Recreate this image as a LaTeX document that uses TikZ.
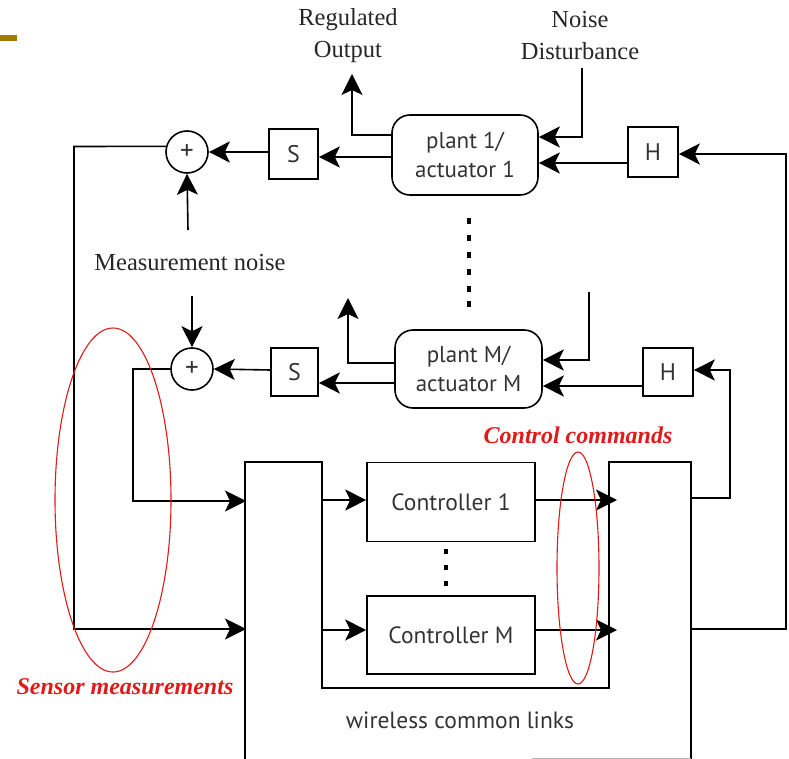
\documentclass[tikz,border=0pt]{standalone}
\usepackage{fontspec}
\setmainfont{Liberation Serif}
\newfontfamily\sansf{PT Sans}
\usetikzlibrary{arrows.meta}
\definecolor{goldbar}{RGB}{165,120,0}
\definecolor{redmark}{RGB}{225,25,25}
\begin{document}
\begin{tikzpicture}[x=1pt,y=-1pt,line width=1.6pt,
  arr/.style={-{Stealth[length=21pt,width=21pt,inset=5pt]}},
  sbox/.style={draw,rectangle,inner sep=0pt,text=black!80,font=\sansf\fontsize{24}{28}\selectfont},
  plantbox/.style={draw,rectangle,rounded corners=18pt,inner sep=0pt,align=center,text=black!80,font=\sansf\fontsize{23}{29}\selectfont},
  sumnode/.style={draw,circle,minimum size=42pt,inner sep=0pt,text=black!80,font=\sansf\fontsize{27}{28}\selectfont},
  ctrlbox/.style={draw,rectangle,minimum width=168pt,inner sep=0pt,text=black!80,font=\sansf\fontsize{23.5}{27}\selectfont},
  serlbl/.style={align=center,text=black!85,font=\fontsize{24.5}{32}\selectfont},
  redlbl/.style={text=redmark,font=\bfseries\itshape\fontsize{24}{28}\selectfont},
  ell/.style={draw=redmark,line width=1.1pt}]
\useasboundingbox (0,0) rectangle (789,759);
\fill[goldbar] (0,35) rectangle (17,41);

% labels
\node[serlbl] (reg) at (348,36) {Regulated\\Output};
\node[serlbl] (noise) at (580,36) {Noise\\Disturbance};
\node[serlbl] (mn) at (190,263) {Measurement noise};

% blocks
\node[plantbox,minimum width=146pt,minimum height=80pt] (plant1) at (465,155) {plant 1/\\actuator 1};
\node[plantbox,minimum width=147pt,minimum height=78pt] (plantM) at (468.5,369) {plant M/\\actuator M};
\node[sbox,minimum width=49pt,minimum height=50pt] (S1) at (293.5,154) {S};
\node[sbox,minimum width=47pt,minimum height=48pt] (SM) at (294.5,372) {S};
\node[sbox,minimum width=50pt,minimum height=50pt] (H1) at (653,152) {H};
\node[sbox,minimum width=50pt,minimum height=48pt] (HM) at (668,372) {H};
\node[sumnode] (sum1) at (187,152) {+};
\node[sumnode] (sumM) at (192,369) {+};
\node[ctrlbox,minimum height=79pt] (ctrl1) at (451,502) {Controller 1};
\node[ctrlbox,minimum height=78pt] (ctrlM) at (451,635) {Controller M};

% wireless common links frame
\draw (245,759) -- (245,462) -- (322,462) -- (322,688) -- (609,688) -- (609,462) -- (691,462) -- (691,759);
\draw[gray!60,line width=0.8pt] (532,758) -- (691,758);
\node[text=black!80,font=\sansf\fontsize{23.5}{27}\selectfont] (wl) at (460,720) {wireless common links};

% free-end coordinates
\coordinate (o1) at (352,74);
\coordinate (n1) at (582,68);
\coordinate (oM) at (348,298);
\coordinate (nM) at (589,292);
\coordinate (mn1) at (188,230);
\coordinate (mn2) at (192,296);
\coordinate (wa) at (246,501);
\coordinate (wb) at (246,629);
\coordinate (wr1) at (691,498);
\coordinate (wr2) at (691,629);
\coordinate (ia) at (322,500);
\coordinate (ib) at (322,630);
\coordinate (ra) at (617,500);
\coordinate (rb) at (617,630);

% plant 1 loop
\draw[arr] (plant1.west |- 0,135) -| (o1);
\draw[arr] (n1) |- (plant1.east |- 0,137);
\draw[arr] (H1.west |- 0,163) -- (plant1.east |- 0,163);
\draw[arr] (wr2) -- (786,629) -- (786,154) -- (H1.east |- 0,154);
\draw[arr] (plant1.west |- 0,157) -- (S1.east |- 0,157);
\draw[arr] (S1.west |- 0,152) -- (sum1.east);
\draw[arr] (mn1) -- (sum1.south);
\draw[arr] (sum1.165) -- (74,146.5) -- (74,629) -- (wb);

% plant M loop
\draw[arr] (plantM.west |- 0,363) -| (oM);
\draw[arr] (nM) |- (plantM.east |- 0,360);
\draw[arr] (HM.west |- 0,386) -- (plantM.east |- 0,386);
\draw[arr] (wr1) -- (730,498) -- (730,370) -- (HM.east |- 0,370);
\draw[arr] (plantM.west |- 0,383) -- (SM.east |- 0,383);
\draw[arr] (SM.west |- 0,370) -- (sumM.east);
\draw[arr] (mn2) -- (sumM.north);
\draw[arr] (sumM.west) -- (133,369) -- (133,501) -- (wa);

% controllers
\draw[arr] (ia) -- (ctrl1.west |- ia);
\draw[arr] (ib) -- (ctrlM.west |- ib);
\draw[arr] (ctrl1.east |- ra) -- (ra);
\draw[arr] (ctrlM.east |- rb) -- (rb);

% dots
\foreach \y in {218,235,252,269,286,301} \fill (467,\y) rectangle (471,\y+6);
\foreach \y in {549,565,581} \fill (444,\y) rectangle (448,\y+5);

% red annotations
\draw[ell] (113,500) ellipse [x radius=58pt,y radius=172pt];
\draw[ell] (578,568) ellipse [x radius=21pt,y radius=116pt];
\node[redlbl] (cc) at (578,435) {Control commands};
\node[redlbl] (sm) at (125,687) {Sensor measurements};
\end{tikzpicture}
\end{document}
